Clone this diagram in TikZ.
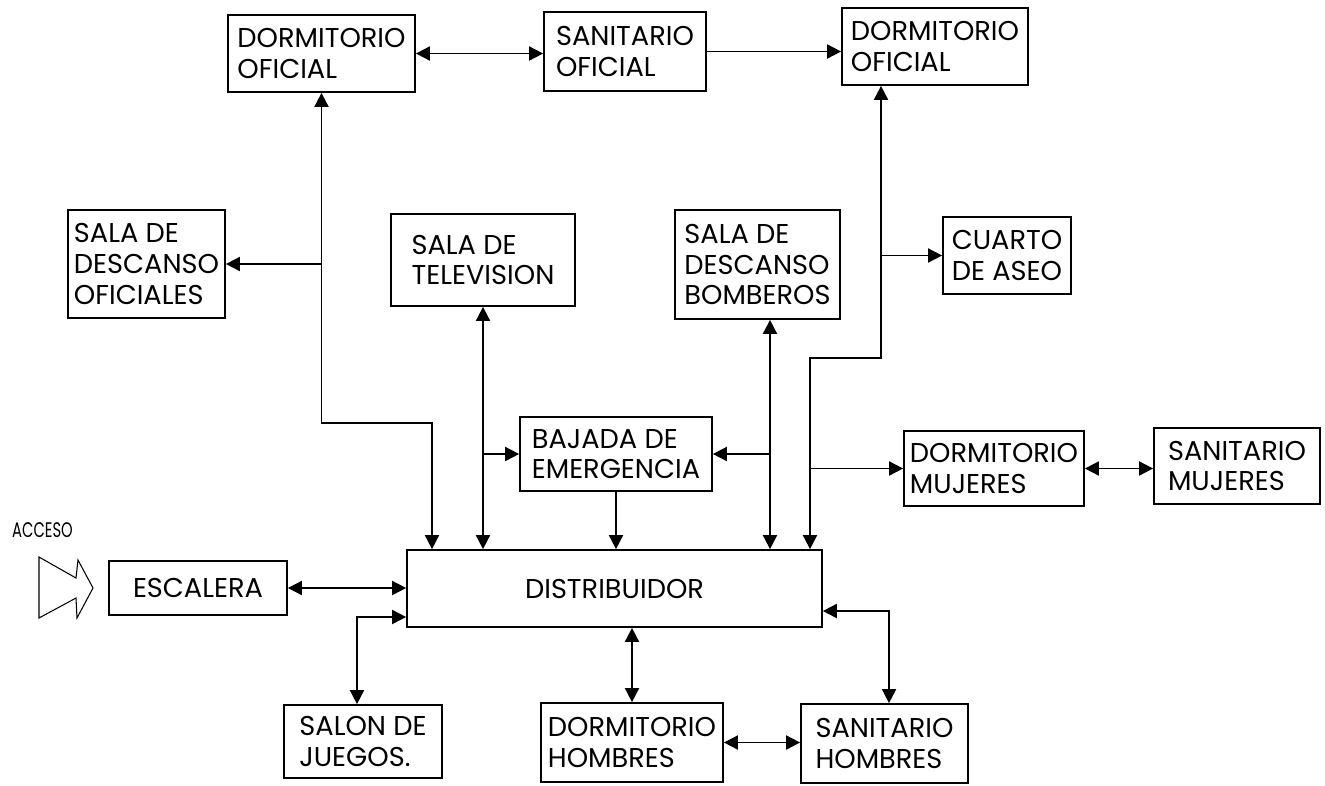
\documentclass[tikz,border=0pt]{standalone}
\usepackage{fontspec}
\setmainfont{Poppins}
\usepackage{tikz}
\usetikzlibrary{arrows.meta}

\begin{document}
\begin{tikzpicture}[x=0.02cm, y=-0.02cm, line width=1pt, >={Triangle[length=8pt,width=8pt]},
    room/.style={draw, align=left, inner sep=2pt, font=\fontsize{15.5}{17.5}\selectfont}]
    \fill[white] (0,0) rectangle (1325,785);
    \useasboundingbox (0,0) rectangle (1325,785);

    % Define nodes
    \node (A) at (321.5,53.5) [room, minimum width=3.74cm, minimum height=1.54cm] {DORMITORIO\\OFICIAL};
    \node (B) at (625,51.5) [room, minimum width=3.24cm, minimum height=1.58cm] {SANITARIO\\OFICIAL};
    \node (C) at (935,46.5) [room, minimum width=3.72cm, minimum height=1.54cm] {DORMITORIO\\OFICIAL};
    \node (D) at (146.5,264) [room, minimum width=3.14cm, minimum height=2.16cm] {SALA DE\\DESCANSO\\OFICIALES};
    \node (E) at (483,260) [room, minimum width=3.68cm, minimum height=1.84cm] {SALA DE\\TELEVISION};
    \node (F) at (757.5,264.5) [room, minimum width=3.30cm, minimum height=2.18cm] {SALA DE\\DESCANSO\\BOMBEROS};
    \node (G) at (1007,255.5) [room, minimum width=2.56cm, minimum height=1.54cm] {CUARTO\\DE ASEO};
    \node (H) at (616,454) [room, minimum width=3.84cm, minimum height=1.48cm] {BAJADA DE\\EMERGENCIA};
    \node (I) at (994,468.5) [room, minimum width=3.60cm, minimum height=1.50cm] {DORMITORIO\\MUJERES};
    \node (J) at (1237,466) [room, minimum width=3.32cm, minimum height=1.52cm] {SANITARIO\\MUJERES};
    \node (K) at (614.5,588.5) [room, minimum width=8.30cm, minimum height=1.54cm] {DISTRIBUIDOR};
    \node (L) at (198,588) [room, minimum width=3.56cm, minimum height=1.08cm] {ESCALERA};
    \node (M) at (363,741.5) [room, minimum width=3.16cm, minimum height=1.46cm] {SALON DE\\JUEGOS.};
    \node (N) at (632,742.5) [room, minimum width=3.64cm, minimum height=1.58cm] {DORMITORIO\\HOMBRES};
    \node (O) at (884.5,743.5) [room, minimum width=3.34cm, minimum height=1.58cm] {SANITARIO\\HOMBRES};
    \node (P) at (42.5,530) [font=\fontsize{12}{14}\selectfont] {\scalebox{0.7}[1]{ACCESO}};

    % Bends of the corridors
    \coordinate (kA) at (432,423);
    \coordinate (kB) at (810,358);
    \coordinate (kS) at (357,617);
    \coordinate (kH) at (889,611);
    \coordinate (colF) at (770,0);
    \coordinate (colC) at (881,0);

    % Draw arrows
    \draw[<->] (A.east) -- (A.east -| B.west);
    \draw[->] (B.east) -- (B.east -| C.west);
    \draw[<->] (A.south) |- (kA) -- (kA |- K.north);
    \draw[->] (A.south |- D.east) -- (D.east);
    \draw[<->] (E.south) -- (E.south |- K.north);
    \draw[->] (E.south |- H.west) -- (H.west);
    \draw[->] (H.south) -- (H.south |- K.north);
    \draw[<->] (colF |- F.south) -- (colF |- K.north);
    \draw[->] (colF |- H.east) -- (H.east);
    \draw[<->] (colC |- C.south) |- (kB) -- (kB |- K.north);
    \draw[->] (colC |- G.west) -- (G.west);
    \draw[->] (kB |- I.west) -- (I.west);
    \draw[<->] (I.east) -- (I.east -| J.west);
    \draw[<->] (L.east) -- (L.east -| K.west);
    \draw[<->] (kS |- M.north) -- (kS) -- (kS -| K.west);
    \draw[<->] (N.north |- K.south) -- (N.north);
    \draw[<->] (N.east) -- (N.east -| O.west);
    \draw[<->] (kH -| K.east) -- (kH) -- (kH |- O.north);

    % Entrance arrow
    \draw[line width=0.6pt] (39,557) -- (76,578) -- (78,560) -- (93,588) -- (77,618) -- (76,598) -- (39,618) -- cycle;
\end{tikzpicture}
\end{document}
